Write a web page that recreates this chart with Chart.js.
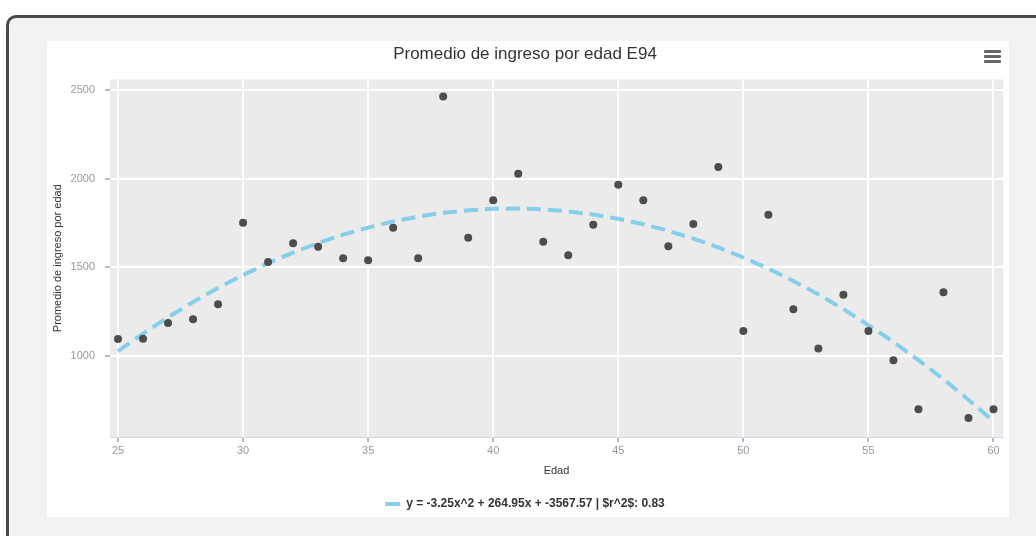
<!DOCTYPE html>
<html>
<head>
<meta charset="utf-8">
<script src="https://cdn.jsdelivr.net/npm/chart.js@4"></script>
<style>
  body { margin: 0; background: #fff; font-family: "Liberation Sans", Arial, sans-serif; }
  #frame { position: absolute; left: 6px; top: 15px; width: 1100px; height: 600px;
           border: 3px solid #4a4a4a; border-radius: 10px; background: #f2f2f2; }
  #box { position: absolute; left: 47px; top: 41px; width: 962px; height: 476px; background: #fff; }
  .bar { position: absolute; left: 984px; width: 17px; height: 3px; background: #666; border-radius: 1px; }
</style>
</head>
<body>
<div id="frame"></div>
<div id="box"><canvas id="chart" width="962" height="476"></canvas></div>
<div class="bar" style="top:50px"></div>
<div class="bar" style="top:55px"></div>
<div class="bar" style="top:60px"></div>
<script>
// edades y promedio de ingreso
var ages = [25, 26, 27, 28, 29, 30, 31, 32, 33, 34, 35, 36, 37, 38, 39, 40, 41, 42,
            43, 44, 45, 46, 47, 48, 49, 50, 51, 52, 53, 54, 55, 56, 57, 58, 59, 60];
var income = [1094, 1096, 1185, 1206, 1290, 1751, 1530, 1635, 1616, 1551, 1539, 1723,
              1551, 2466, 1667, 1878, 2028, 1644, 1567, 1740, 1966, 1878, 1618, 1745,
              2067, 1140, 1796, 1262, 1041, 1344, 1140, 974, 697, 1358, 648, 697];
// curva de tendencia
var trend = [1025, 1124, 1217, 1303, 1383, 1456, 1523, 1583, 1637, 1684, 1724, 1759,
             1786, 1808, 1822, 1830, 1832, 1827, 1816, 1798, 1774, 1743, 1706, 1662,
             1612, 1555, 1492, 1422, 1346, 1263, 1173, 1078, 975, 867, 751, 629];
var xTicks = [25, 30, 35, 40, 45, 50, 55, 60];
var yTicks = [1000, 1500, 2000, 2500];
var trendLabel = 'y = -3.25x^2 + 264.95x + -3567.57 | $r^2$: 0.83';

var font = '"Liberation Sans", Arial, sans-serif';

var pts = [], line = [];
for (var i = 0; i < ages.length; i++) {
  pts.push({x: ages[i], y: income[i]});
  line.push({x: ages[i], y: trend[i]});
}

var plotBg = {
  id: 'plotBg',
  beforeDraw: function(chart) {
    var a = chart.chartArea, ctx = chart.ctx;
    ctx.save();
    ctx.fillStyle = '#ebebeb';
    ctx.fillRect(a.left, a.top, a.right - a.left, a.bottom - a.top);
    ctx.restore();
  }
};

new Chart(document.getElementById('chart'), {
  type: 'scatter',
  data: {
    datasets: [
      {
        label: 'datos',
        data: pts,
        backgroundColor: '#4d4d4d',
        borderWidth: 0,
        pointRadius: 4,
        pointHoverRadius: 4
      },
      {
        label: trendLabel,
        data: line,
        showLine: true,
        borderColor: '#87ceeb',
        backgroundColor: '#87ceeb',
        borderWidth: 4,
        borderDash: [14, 7],
        pointRadius: 0,
        tension: 0
      }
    ]
  },
  options: {
    responsive: false,
    animation: false,
    layout: { padding: { left: 0, right: 6, top: 0, bottom: -3 } },
    plugins: {
      title: {
        display: true,
        text: 'Promedio de ingreso por edad E94',
        color: '#333',
        font: { family: font, size: 17, weight: 'normal' },
        padding: { top: 3, bottom: 15 }
      },
      legend: {
        position: 'bottom',
        labels: {
          color: '#333',
          font: { family: font, size: 12, weight: 'bold' },
          boxWidth: 15,
          boxHeight: 4,
          padding: 8,
          filter: function(item) { return item.datasetIndex === 1; },
          generateLabels: function(chart) {
            return chart.data.datasets.map(function(ds, i) {
              return { text: ds.label, fillStyle: '#87ceeb', strokeStyle: '#87ceeb',
                       lineWidth: 0, datasetIndex: i, fontColor: '#333' };
            });
          }
        }
      },
      tooltip: { enabled: false }
    },
    scales: {
      x: {
        type: 'linear',
        min: 24.68,
        max: 60.38,
        afterBuildTicks: function(s) { s.ticks = xTicks.map(function(v) { return {value: v}; }); },
        afterFit: function(s) { s.height = 53; },
        grid: { color: '#fff', lineWidth: 2, tickColor: '#777', tickWidth: 1, tickLength: 5 },
        border: { color: '#ccd6eb', width: 1 },
        ticks: { color: '#999', font: { family: font, size: 11 }, padding: 2, maxRotation: 0,
                 callback: function(v) { return String(v); } },
        title: { display: true, text: 'Edad', color: '#333',
                 font: { family: font, size: 11 }, padding: { top: 0, bottom: 12 } }
      },
      y: {
        type: 'linear',
        min: 540,
        max: 2562,
        afterBuildTicks: function(s) { s.ticks = yTicks.map(function(v) { return {value: v}; }); },
        afterFit: function(s) { s.width = 63; },
        grid: { color: '#fff', lineWidth: 2, tickColor: '#777', tickWidth: 1, tickLength: 5 },
        border: { display: false },
        ticks: { color: '#999', font: { family: font, size: 11 }, padding: 10,
                 callback: function(v) { return String(v); } },
        title: { display: true, text: 'Promedio de ingreso por edad', color: '#333',
                 font: { family: font, size: 11 }, padding: { top: 4, bottom: 0 } }
      }
    }
  },
  plugins: [plotBg]
});
</script>
</body>
</html>
